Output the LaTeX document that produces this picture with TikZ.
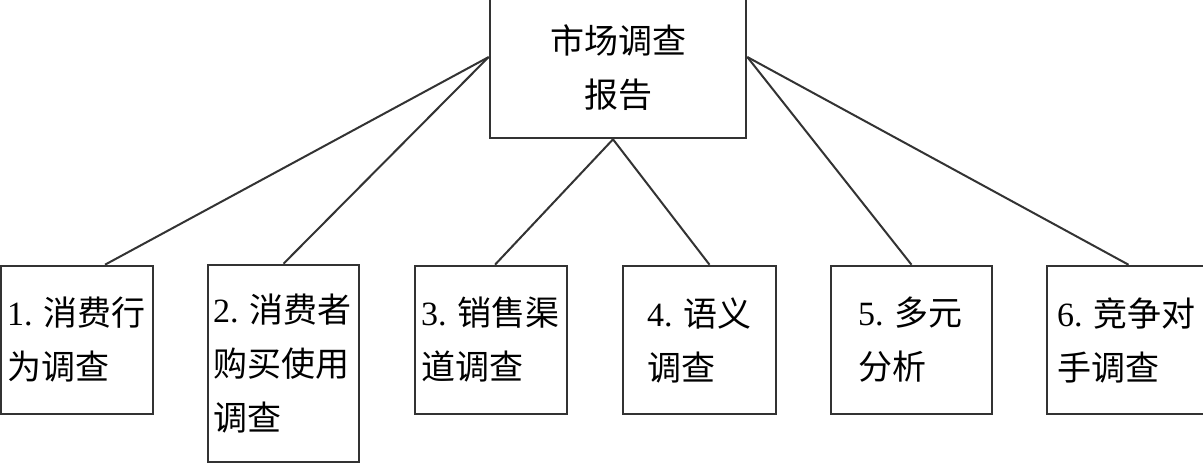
\documentclass[tikz,border=0pt]{standalone}
\usepackage{fontspec}
\setmainfont{Liberation Serif}
\newfontfamily\cjk{Noto Sans CJK SC}
\newcommand\idx[1]{{\rmfamily #1.\ }}
\tikzset{
  box/.style={draw=black!80, line width=1.3pt, rectangle, inner sep=0pt,
    font=\cjk\fontsize{17}{27}\selectfont, align=left},
  link/.style={draw=black!80, line width=1pt}
}
\begin{document}
\begin{tikzpicture}[x=0.5pt,y=-0.5pt]
  \clip (0,0) rectangle (1203,463);
  % report on top
  \node[box, align=center, minimum width=128pt, minimum height=70pt] (report) at (618,68) {市场调查\\报告};
  % six parts of the survey
  \node[box, minimum width=76pt, minimum height=74pt, text width=70pt] (b1) at (77,340) {\idx{1}消费行\\为调查};
  \node[box, minimum width=75.5pt, minimum height=98.5pt, text width=70.5pt] (b2) at (283.5,363.5) {\idx{2}消费者\\购买使用\\调查};
  \node[box, minimum width=76pt, minimum height=74pt, text width=70pt] (b3) at (491,340) {\idx{3}销售渠\\道调查};
  \node[box, minimum width=76.5pt, minimum height=74pt, text width=52.5pt] (b4) at (699.5,340) {\idx{4}语义\\调查};
  \node[box, minimum width=80.5pt, minimum height=74pt, text width=53.5pt] (b5) at (911.5,340) {\idx{5}多元\\分析};
  \node[box, minimum width=81.5pt, minimum height=74pt, text width=71.5pt] (b6) at (1128.5,340) {\idx{6}竞争对\\手调查};
  % connectors
  \draw[link] ([yshift=5.5pt]report.west) -- ([xshift=14pt]b1.north);
  \draw[link] ([yshift=5.5pt]report.west) -- (b2.north);
  \draw[link] ([xshift=-2.5pt]report.south) -- ([xshift=2pt]b3.north);
  \draw[link] ([xshift=-2.5pt]report.south) -- ([xshift=5pt]b4.north);
  \draw[link] ([yshift=5.5pt]report.east) -- (b5.north);
  \draw[link] ([yshift=5.5pt]report.east) -- (b6.north);
\end{tikzpicture}
\end{document}
